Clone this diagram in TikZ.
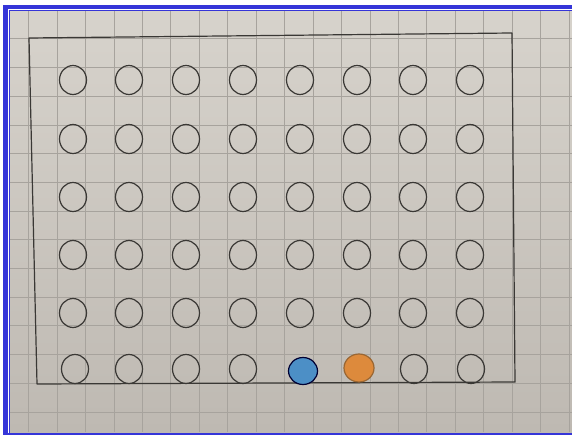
\documentclass[tikz,border=0pt]{standalone}
\usetikzlibrary{shapes.geometric}
\definecolor{frameblue}{HTML}{3535D8}
\definecolor{gridgrey}{HTML}{A7A39D}
\definecolor{pencil}{HTML}{3A3835}
\definecolor{papertop}{HTML}{D7D3CC}
\definecolor{paperbot}{HTML}{BEB9B2}
\definecolor{dotblue}{HTML}{4C8FC6}
\definecolor{dotorange}{HTML}{DD8A3C}
\tikzset{
  ring/.style={ellipse,draw=pencil,line width=1.2pt,minimum width=27pt,minimum height=29pt,inner sep=0pt},
  bluedot/.style={ring,draw=black!80!blue,fill=dotblue,minimum width=29pt,minimum height=27pt},
  orangedot/.style={ring,draw=brown!80!black,fill=dotorange,minimum width=30pt,minimum height=28pt},
  gridline/.style={gridgrey,line width=0.55pt},
  boxline/.style={pencil,line width=1.2pt,line join=round}
}
\begin{document}
\begin{tikzpicture}[x=1pt,y=-1pt]
\useasboundingbox (0,0) rectangle (572,435);
\fill[white] (0,0) rectangle (572,435);
% paper
\shade[top color=papertop, bottom color=paperbot] (10,11) rectangle (572,432);
\foreach \k in {1,...,20} \draw[gridline] (28.45*\k,11) -- (28.45*\k,432);
\foreach \k in {1,...,14} \draw[gridline] (10,10+28.7*\k) -- (572,10+28.7*\k);
% frame
\fill[frameblue] (3,5) rectangle (572,9.3);
\fill[frameblue] (3,5) rectangle (8,435);
\fill[frameblue] (3,432.6) rectangle (572,435);
\draw[frameblue,line width=0.9pt] (9.6,435) -- (9.6,10.6) -- (572,10.6);
% hand-drawn rectangle
\coordinate (tl) at (29,38);
\coordinate (tr) at (512,33);
\coordinate (br) at (515,382);
\coordinate (bl) at (37,384);
\draw[boxline] (tl) -- (tr) -- (br) -- (bl) -- cycle;
% circles
\foreach \y [count=\r] in {80,139,197,255,313} {
  \foreach \x [count=\c] in {73,129,186,243,300,357,413,470} {
    \node[ring] (c-\r-\c) at (\x,\y) {};
  }
}
\foreach \x/\c in {75/1,129/2,186/3,243/4,414/7,471/8} {
  \node[ring] (c-6-\c) at (\x,369) {};
}
\node[bluedot] (c-6-5) at (303,371) {};
\node[orangedot] (c-6-6) at (359,368) {};
\end{tikzpicture}
\end{document}
